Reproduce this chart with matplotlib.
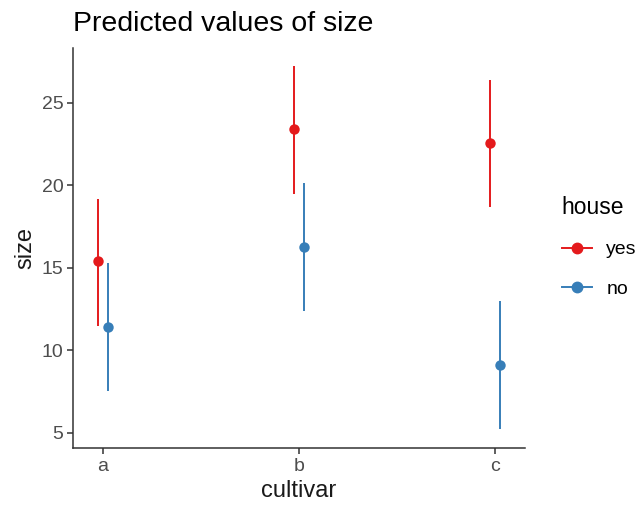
import numpy as np
import matplotlib
matplotlib.use("Agg")
import matplotlib.pyplot as plt
from matplotlib.lines import Line2D

plt.rcParams['font.family'] = ['Liberation Sans', 'DejaVu Sans']

# predicted values
cultivar = ["a", "b", "c"]
houses = ["yes", "no"]
pred = {"yes": [15.4, 23.4, 22.6], "no": [11.45, 16.25, 9.1]}
low = {"yes": [11.5, 19.5, 18.7], "no": [7.55, 12.4, 5.25]}
high = {"yes": [19.2, 27.25, 26.4], "no": [15.3, 20.15, 13.0]}
colors = {"yes": "#E41A1C", "no": "#377EB8"}
dodge = {"yes": -0.025, "no": 0.025}

fig = plt.figure(figsize=(6.41, 5.08), dpi=100)
ax = fig.add_axes([73 / 641, 1 - 448 / 508, (525 - 73) / 641, (448 - 48) / 508])

x = np.arange(len(cultivar))
for h in houses:
    xs = x + dodge[h]
    ax.vlines(xs, low[h], high[h], color=colors[h], lw=1.4)
    ax.plot(xs, pred[h], "o", color=colors[h], ms=7.5, mew=0)

ax.set_xlim(-0.153, 2.153)
ax.set_ylim(4.09, 28.33)
ax.set_xticks(x)
ax.set_xticklabels(cultivar)
ax.set_yticks([5, 10, 15, 20, 25])
for s in ["top", "right"]:
    ax.spines[s].set_visible(False)
for s in ["left", "bottom"]:
    ax.spines[s].set_linewidth(1.1)
    ax.spines[s].set_color("#333333")
ax.tick_params(colors="#333333", labelcolor="#4D4D4D", labelsize=14, length=4, width=1.1, pad=3)
ax.set_xlabel("cultivar", fontsize=17, color="#1a1a1a", labelpad=4)
ax.set_ylabel("size", fontsize=17, color="#1a1a1a", labelpad=4)
ax.set_title("Predicted values of size", fontsize=20.5, loc="left", pad=12, x=0)

handles = [Line2D([0], [0], color=colors[h], marker="o", ms=7.5, lw=1.4) for h in houses]
leg = fig.legend(handles, houses, title="house", loc="upper left",
                 bbox_to_anchor=(544 / 641, 1 - 179 / 508), frameon=False,
                 fontsize=14, title_fontsize=16.5, handlelength=1.55, handletextpad=0.75,
                 labelspacing=1.1, alignment="left")

fig.savefig("out.png", dpi=100)
